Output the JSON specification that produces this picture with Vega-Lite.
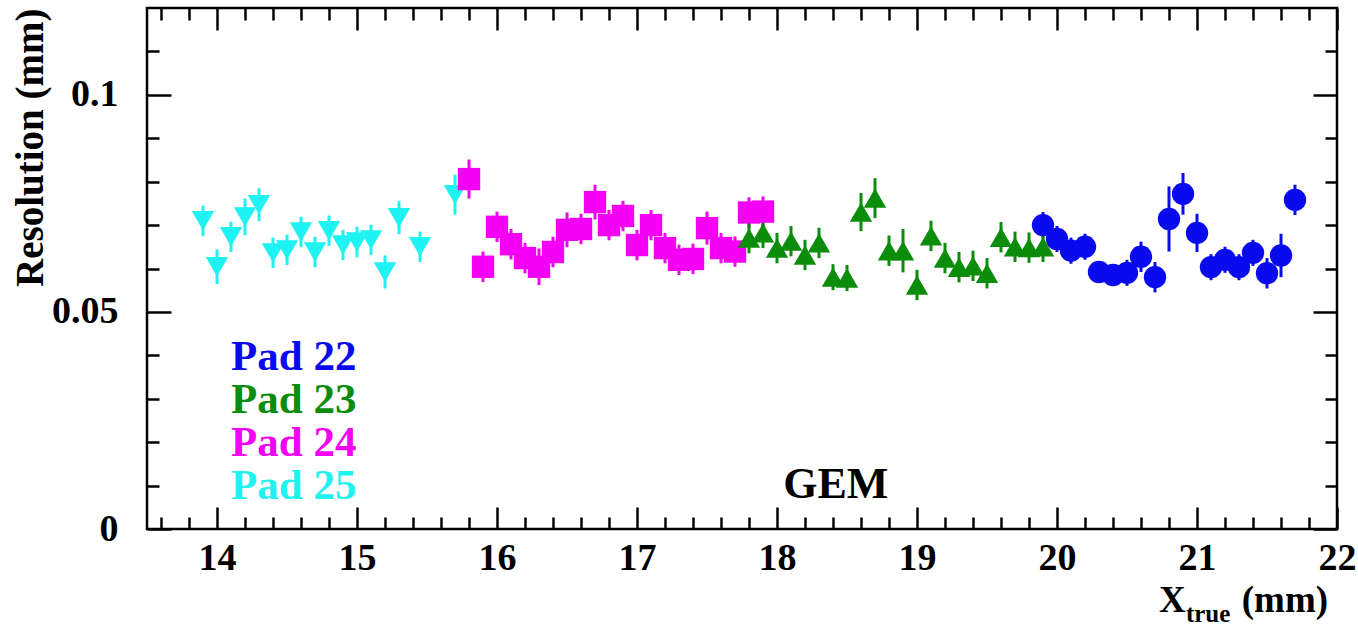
{
  "$schema": "https://vega.github.io/schema/vega-lite/v6.json",
  "width": 1190,
  "height": 521,
  "autosize": {"type": "none"},
  "padding": {"left": 147, "top": 8, "right": 21, "bottom": 99},
  "background": "white",
  "config": {
    "view": {"stroke": "black", "strokeWidth": 2.5},
    "axis": {
      "domain": false, "grid": false, "tickColor": "black", "tickWidth": 2.5,
      "labelFont": "Liberation Serif", "labelFontWeight": "bold", "labelFontSize": 38, "labelColor": "black",
      "titleFont": "Liberation Serif", "titleFontWeight": "bold", "titleFontSize": 39, "titleColor": "black",
      "labelFlush": false, "labelOverlap": false
    },
    "text": {"font": "Liberation Serif", "fontWeight": "bold"}
  },
  "datasets": {
    "pts": [
      {"pad": "Pad 25", "x": 13.9, "y": 0.0710, "lo": 0.0675, "hi": 0.0745},
      {"pad": "Pad 25", "x": 14.0, "y": 0.0604, "lo": 0.0564, "hi": 0.0644},
      {"pad": "Pad 25", "x": 14.1, "y": 0.0673, "lo": 0.0638, "hi": 0.0708},
      {"pad": "Pad 25", "x": 14.2, "y": 0.0719, "lo": 0.0677, "hi": 0.0761},
      {"pad": "Pad 25", "x": 14.3, "y": 0.0747, "lo": 0.0709, "hi": 0.0785},
      {"pad": "Pad 25", "x": 14.4, "y": 0.0636, "lo": 0.0601, "hi": 0.0671},
      {"pad": "Pad 25", "x": 14.5, "y": 0.0643, "lo": 0.0608, "hi": 0.0678},
      {"pad": "Pad 25", "x": 14.6, "y": 0.0684, "lo": 0.0649, "hi": 0.0719},
      {"pad": "Pad 25", "x": 14.7, "y": 0.0638, "lo": 0.0603, "hi": 0.0673},
      {"pad": "Pad 25", "x": 14.8, "y": 0.0687, "lo": 0.0652, "hi": 0.0722},
      {"pad": "Pad 25", "x": 14.9, "y": 0.0654, "lo": 0.0619, "hi": 0.0689},
      {"pad": "Pad 25", "x": 15.0, "y": 0.0661, "lo": 0.0626, "hi": 0.0696},
      {"pad": "Pad 25", "x": 15.1, "y": 0.0666, "lo": 0.0631, "hi": 0.0701},
      {"pad": "Pad 25", "x": 15.2, "y": 0.0592, "lo": 0.0554, "hi": 0.0630},
      {"pad": "Pad 25", "x": 15.3, "y": 0.0717, "lo": 0.0679, "hi": 0.0755},
      {"pad": "Pad 25", "x": 15.45, "y": 0.0650, "lo": 0.0615, "hi": 0.0685},
      {"pad": "Pad 25", "x": 15.7, "y": 0.0770, "lo": 0.0724, "hi": 0.0816},
      {"pad": "Pad 24", "x": 15.8, "y": 0.0806, "lo": 0.0761, "hi": 0.0851},
      {"pad": "Pad 24", "x": 15.9, "y": 0.0604, "lo": 0.0569, "hi": 0.0639},
      {"pad": "Pad 24", "x": 16.0, "y": 0.0696, "lo": 0.0661, "hi": 0.0731},
      {"pad": "Pad 24", "x": 16.1, "y": 0.0656, "lo": 0.0621, "hi": 0.0691},
      {"pad": "Pad 24", "x": 16.2, "y": 0.0624, "lo": 0.0589, "hi": 0.0659},
      {"pad": "Pad 24", "x": 16.3, "y": 0.0604, "lo": 0.0562, "hi": 0.0646},
      {"pad": "Pad 24", "x": 16.4, "y": 0.0638, "lo": 0.0603, "hi": 0.0673},
      {"pad": "Pad 24", "x": 16.5, "y": 0.0689, "lo": 0.0649, "hi": 0.0729},
      {"pad": "Pad 24", "x": 16.6, "y": 0.0691, "lo": 0.0656, "hi": 0.0726},
      {"pad": "Pad 24", "x": 16.7, "y": 0.0753, "lo": 0.0713, "hi": 0.0793},
      {"pad": "Pad 24", "x": 16.8, "y": 0.0700, "lo": 0.0665, "hi": 0.0735},
      {"pad": "Pad 24", "x": 16.9, "y": 0.0721, "lo": 0.0686, "hi": 0.0756},
      {"pad": "Pad 24", "x": 17.0, "y": 0.0654, "lo": 0.0619, "hi": 0.0689},
      {"pad": "Pad 24", "x": 17.1, "y": 0.0700, "lo": 0.0665, "hi": 0.0735},
      {"pad": "Pad 24", "x": 17.2, "y": 0.0647, "lo": 0.0612, "hi": 0.0682},
      {"pad": "Pad 24", "x": 17.3, "y": 0.0620, "lo": 0.0585, "hi": 0.0655},
      {"pad": "Pad 24", "x": 17.4, "y": 0.0622, "lo": 0.0587, "hi": 0.0657},
      {"pad": "Pad 24", "x": 17.5, "y": 0.0693, "lo": 0.0655, "hi": 0.0731},
      {"pad": "Pad 24", "x": 17.6, "y": 0.0647, "lo": 0.0612, "hi": 0.0682},
      {"pad": "Pad 24", "x": 17.7, "y": 0.0639, "lo": 0.0604, "hi": 0.0674},
      {"pad": "Pad 24", "x": 17.8, "y": 0.0729, "lo": 0.0694, "hi": 0.0764},
      {"pad": "Pad 24", "x": 17.9, "y": 0.0731, "lo": 0.0696, "hi": 0.0766},
      {"pad": "Pad 22", "x": 19.9, "y": 0.0700, "lo": 0.0670, "hi": 0.0730},
      {"pad": "Pad 22", "x": 20.0, "y": 0.0668, "lo": 0.0638, "hi": 0.0698},
      {"pad": "Pad 22", "x": 20.1, "y": 0.0641, "lo": 0.0611, "hi": 0.0671},
      {"pad": "Pad 22", "x": 20.2, "y": 0.0650, "lo": 0.0620, "hi": 0.0680},
      {"pad": "Pad 22", "x": 20.3, "y": 0.0592, "lo": 0.0567, "hi": 0.0617},
      {"pad": "Pad 22", "x": 20.4, "y": 0.0585, "lo": 0.0560, "hi": 0.0610},
      {"pad": "Pad 22", "x": 20.5, "y": 0.0590, "lo": 0.0560, "hi": 0.0620},
      {"pad": "Pad 22", "x": 20.6, "y": 0.0627, "lo": 0.0592, "hi": 0.0662},
      {"pad": "Pad 22", "x": 20.7, "y": 0.0580, "lo": 0.0545, "hi": 0.0615},
      {"pad": "Pad 22", "x": 20.8, "y": 0.0714, "lo": 0.0639, "hi": 0.0789},
      {"pad": "Pad 22", "x": 20.9, "y": 0.0772, "lo": 0.0724, "hi": 0.0820},
      {"pad": "Pad 22", "x": 21.0, "y": 0.0682, "lo": 0.0638, "hi": 0.0726},
      {"pad": "Pad 22", "x": 21.1, "y": 0.0603, "lo": 0.0573, "hi": 0.0633},
      {"pad": "Pad 22", "x": 21.2, "y": 0.0620, "lo": 0.0590, "hi": 0.0650},
      {"pad": "Pad 22", "x": 21.3, "y": 0.0603, "lo": 0.0573, "hi": 0.0633},
      {"pad": "Pad 22", "x": 21.4, "y": 0.0636, "lo": 0.0606, "hi": 0.0666},
      {"pad": "Pad 22", "x": 21.5, "y": 0.0589, "lo": 0.0554, "hi": 0.0624},
      {"pad": "Pad 22", "x": 21.6, "y": 0.0630, "lo": 0.0580, "hi": 0.0680},
      {"pad": "Pad 22", "x": 21.7, "y": 0.0758, "lo": 0.0723, "hi": 0.0793},
      {"pad": "Pad 23", "x": 17.8, "y": 0.0670, "lo": 0.0635, "hi": 0.0705},
      {"pad": "Pad 23", "x": 17.9, "y": 0.0682, "lo": 0.0647, "hi": 0.0717},
      {"pad": "Pad 23", "x": 18.0, "y": 0.0647, "lo": 0.0612, "hi": 0.0682},
      {"pad": "Pad 23", "x": 18.1, "y": 0.0663, "lo": 0.0628, "hi": 0.0698},
      {"pad": "Pad 23", "x": 18.2, "y": 0.0631, "lo": 0.0596, "hi": 0.0666},
      {"pad": "Pad 23", "x": 18.3, "y": 0.0659, "lo": 0.0624, "hi": 0.0694},
      {"pad": "Pad 23", "x": 18.4, "y": 0.0580, "lo": 0.0550, "hi": 0.0610},
      {"pad": "Pad 23", "x": 18.5, "y": 0.0578, "lo": 0.0548, "hi": 0.0608},
      {"pad": "Pad 23", "x": 18.6, "y": 0.0730, "lo": 0.0686, "hi": 0.0774},
      {"pad": "Pad 23", "x": 18.7, "y": 0.0762, "lo": 0.0716, "hi": 0.0808},
      {"pad": "Pad 23", "x": 18.8, "y": 0.0641, "lo": 0.0606, "hi": 0.0676},
      {"pad": "Pad 23", "x": 18.9, "y": 0.0641, "lo": 0.0591, "hi": 0.0691},
      {"pad": "Pad 23", "x": 19.0, "y": 0.0562, "lo": 0.0527, "hi": 0.0597},
      {"pad": "Pad 23", "x": 19.1, "y": 0.0675, "lo": 0.0640, "hi": 0.0710},
      {"pad": "Pad 23", "x": 19.2, "y": 0.0624, "lo": 0.0589, "hi": 0.0659},
      {"pad": "Pad 23", "x": 19.3, "y": 0.0603, "lo": 0.0568, "hi": 0.0638},
      {"pad": "Pad 23", "x": 19.4, "y": 0.0606, "lo": 0.0571, "hi": 0.0641},
      {"pad": "Pad 23", "x": 19.5, "y": 0.0589, "lo": 0.0554, "hi": 0.0624},
      {"pad": "Pad 23", "x": 19.6, "y": 0.0672, "lo": 0.0637, "hi": 0.0707},
      {"pad": "Pad 23", "x": 19.7, "y": 0.0650, "lo": 0.0615, "hi": 0.0685},
      {"pad": "Pad 23", "x": 19.8, "y": 0.0648, "lo": 0.0613, "hi": 0.0683},
      {"pad": "Pad 23", "x": 19.9, "y": 0.0650, "lo": 0.0615, "hi": 0.0685}
    ],
    "pads": [
      {"pad": "Pad 22", "lx": 14.1, "ly": 0.0366},
      {"pad": "Pad 23", "lx": 14.1, "ly": 0.0267},
      {"pad": "Pad 24", "lx": 14.1, "ly": 0.0168},
      {"pad": "Pad 25", "lx": 14.1, "ly": 0.0069}
    ],
    "xtitle": [
      {"t": "X", "nx": 20.729, "ny": -0.0191},
      {"t": "(mm)", "nx": 21.32, "ny": -0.0191}
    ],
    "one": [{}]
  },
  "resolve": {"axis": {"x": "independent", "y": "independent"}},
  "layer": [
    {
      "data": {"name": "pts"},
      "mark": {"type": "rule", "strokeWidth": 3},
      "encoding": {
        "x": {"field": "x", "type": "quantitative",
          "scale": {"domain": [13.5, 22], "nice": false, "zero": false},
          "axis": {"orient": "bottom", "values": [14, 15, 16, 17, 18, 19, 20, 21, 22], "tickSize": -22, "labelPadding": 32, "format": "d", "title": null}},
        "y": {"field": "lo", "type": "quantitative",
          "scale": {"domain": [0, 0.12], "nice": false, "zero": false},
          "axis": {"orient": "left", "values": [0, 0.05, 0.1], "tickSize": -24, "labelPadding": 53, "format": "~g",
            "title": "Resolution (mm)", "titleAnchor": "end", "titlePadding": 1}},
        "y2": {"field": "hi"},
        "color": {"field": "pad", "type": "nominal",
          "scale": {"domain": ["Pad 22", "Pad 23", "Pad 24", "Pad 25"], "range": ["#0a0aee", "#0b8c0b", "#f400f4", "#1ef2f2"]},
          "legend": null}
      }
    },
    {
      "data": {"name": "pts"},
      "mark": {"type": "point", "filled": true, "opacity": 1, "strokeWidth": 0},
      "encoding": {
        "x": {"field": "x", "type": "quantitative",
          "scale": {"domain": [13.5, 22], "nice": false, "zero": false},
          "axis": {"orient": "bottom", "values": [13.6, 13.8, 14.2, 14.4, 14.6, 14.8, 15.2, 15.4, 15.6, 15.8, 16.2, 16.4, 16.6, 16.8, 17.2, 17.4, 17.6, 17.8, 18.2, 18.4, 18.6, 18.8, 19.2, 19.4, 19.6, 19.8, 20.2, 20.4, 20.6, 20.8, 21.2, 21.4, 21.6, 21.8], "tickSize": -12, "labels": false, "title": null}},
        "y": {"field": "y", "type": "quantitative",
          "scale": {"domain": [0, 0.12], "nice": false, "zero": false},
          "axis": {"orient": "left", "values": [0.01, 0.02, 0.03, 0.04, 0.06, 0.07, 0.08, 0.09, 0.11], "tickSize": -12, "labels": false, "title": null}},
        "color": {"field": "pad", "type": "nominal", "legend": null},
        "shape": {"field": "pad", "type": "nominal",
          "scale": {"domain": ["Pad 22", "Pad 23", "Pad 24", "Pad 25"], "range": ["circle", "triangle-up", "square", "triangle-down"]},
          "legend": null},
        "size": {"field": "pad", "type": "nominal",
          "scale": {"domain": ["Pad 22", "Pad 23", "Pad 24", "Pad 25"], "range": [500, 500, 520, 500]},
          "legend": null}
      }
    },
    {
      "data": {"name": "pads"},
      "mark": {"type": "text", "align": "left", "baseline": "alphabetic", "fontSize": 43},
      "encoding": {
        "x": {"field": "lx", "type": "quantitative",
          "scale": {"domain": [13.5, 22], "nice": false, "zero": false},
          "axis": {"orient": "top", "values": [14, 15, 16, 17, 18, 19, 20, 21, 22], "tickSize": -22, "labels": false, "title": null}},
        "y": {"field": "ly", "type": "quantitative",
          "scale": {"domain": [0, 0.12], "nice": false, "zero": false},
          "axis": {"orient": "right", "values": [0, 0.05, 0.1], "tickSize": -24, "labels": false, "title": null}},
        "text": {"field": "pad"},
        "color": {"field": "pad", "type": "nominal", "legend": null}
      }
    },
    {
      "data": {"name": "one"},
      "mark": {"type": "text", "align": "center", "baseline": "alphabetic", "fontSize": 44, "color": "black"},
      "encoding": {
        "x": {"datum": 18.42, "type": "quantitative",
          "scale": {"domain": [13.5, 22], "nice": false, "zero": false},
          "axis": {"orient": "top", "values": [13.6, 13.8, 14.2, 14.4, 14.6, 14.8, 15.2, 15.4, 15.6, 15.8, 16.2, 16.4, 16.6, 16.8, 17.2, 17.4, 17.6, 17.8, 18.2, 18.4, 18.6, 18.8, 19.2, 19.4, 19.6, 19.8, 20.2, 20.4, 20.6, 20.8, 21.2, 21.4, 21.6, 21.8], "tickSize": -12, "labels": false, "title": null}},
        "y": {"datum": 0.00714, "type": "quantitative",
          "scale": {"domain": [0, 0.12], "nice": false, "zero": false},
          "axis": {"orient": "right", "values": [0.01, 0.02, 0.03, 0.04, 0.06, 0.07, 0.08, 0.09, 0.11], "tickSize": -12, "labels": false, "title": null}},
        "text": {"value": "GEM"}
      }
    },
    {
      "data": {"name": "xtitle"},
      "mark": {"type": "text", "align": "left", "baseline": "alphabetic", "fontSize": 37, "color": "black"},
      "encoding": {
        "x": {"field": "nx", "type": "quantitative", "scale": {"domain": [13.5, 22], "nice": false, "zero": false}, "axis": null},
        "y": {"field": "ny", "type": "quantitative", "scale": {"domain": [0, 0.12], "nice": false, "zero": false}, "axis": null},
        "text": {"field": "t"}
      }
    },
    {
      "data": {"name": "one"},
      "mark": {"type": "text", "align": "left", "baseline": "alphabetic", "fontSize": 25, "color": "black"},
      "encoding": {
        "x": {"datum": 20.921, "type": "quantitative", "scale": {"domain": [13.5, 22], "nice": false, "zero": false}, "axis": null},
        "y": {"datum": -0.0214, "type": "quantitative", "scale": {"domain": [0, 0.12], "nice": false, "zero": false}, "axis": null},
        "text": {"value": "true"}
      }
    }
  ]
}
